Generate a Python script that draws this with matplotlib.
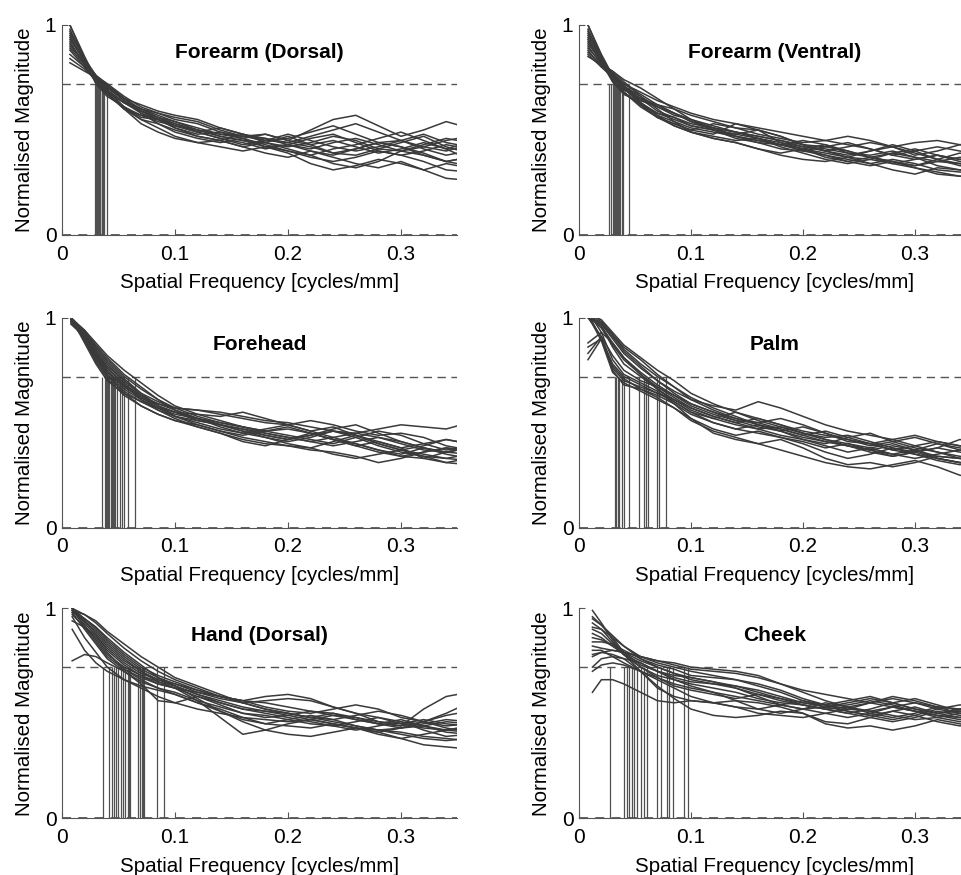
import matplotlib
matplotlib.use("Agg")
import matplotlib.pyplot as plt
import numpy as np

plt.rcParams['font.family'] = ['Liberation Sans', 'DejaVu Sans']

# ---------------- data ----------------
freq_tail = [0.02, 0.03, 0.04, 0.055, 0.07, 0.085, 0.1, 0.12, 0.14, 0.16, 0.18,
             0.2, 0.22, 0.24, 0.26, 0.28, 0.3, 0.32, 0.34, 0.36]
start_freq = [0.007, 0.008, 0.008, 0.008, 0.009, 0.012]
titles = ["Forearm (Dorsal)", "Forearm (Ventral)", "Forehead", "Palm",
          "Hand (Dorsal)", "Cheek"]
threshold = 0.72
x_ticks = [0, 0.1, 0.2, 0.3]
x_tick_labels = ["0", "0.1", "0.2", "0.3"]
y_ticks = [0, 1]
y_tick_labels = ["0", "1"]
x_label = "Spatial Frequency [cycles/mm]"
y_label = "Normalised Magnitude"

forearm_dorsal_curves = [
    [1.00, 0.84, 0.73, 0.67, 0.60, 0.57, 0.54, 0.52, 0.50, 0.47, 0.45, 0.44, 0.42, 0.44, 0.47, 0.45, 0.41, 0.40, 0.43, 0.46, 0.44],
    [0.98, 0.83, 0.72, 0.66, 0.61, 0.56, 0.55, 0.51, 0.48, 0.49, 0.46, 0.42, 0.43, 0.40, 0.38, 0.41, 0.44, 0.42, 0.38, 0.35, 0.37],
    [0.95, 0.82, 0.73, 0.68, 0.63, 0.60, 0.58, 0.56, 0.54, 0.50, 0.47, 0.48, 0.45, 0.50, 0.55, 0.57, 0.52, 0.47, 0.50, 0.54, 0.51],
    [0.92, 0.81, 0.74, 0.68, 0.60, 0.55, 0.53, 0.49, 0.46, 0.44, 0.46, 0.43, 0.40, 0.37, 0.35, 0.37, 0.40, 0.38, 0.35, 0.31, 0.30],
    [0.90, 0.82, 0.74, 0.69, 0.63, 0.59, 0.56, 0.54, 0.51, 0.48, 0.47, 0.45, 0.46, 0.49, 0.52, 0.48, 0.44, 0.45, 0.41, 0.38, 0.40],
    [0.88, 0.80, 0.73, 0.67, 0.61, 0.57, 0.55, 0.53, 0.49, 0.46, 0.43, 0.45, 0.48, 0.45, 0.42, 0.40, 0.42, 0.45, 0.48, 0.44, 0.42],
    [0.86, 0.80, 0.74, 0.68, 0.60, 0.53, 0.49, 0.46, 0.44, 0.45, 0.42, 0.39, 0.37, 0.40, 0.37, 0.34, 0.32, 0.35, 0.31, 0.27, 0.26],
    [0.84, 0.79, 0.74, 0.68, 0.63, 0.58, 0.55, 0.51, 0.47, 0.45, 0.48, 0.46, 0.43, 0.41, 0.44, 0.46, 0.43, 0.40, 0.42, 0.45, 0.47],
    [0.82, 0.78, 0.75, 0.70, 0.65, 0.62, 0.59, 0.57, 0.55, 0.51, 0.48, 0.44, 0.41, 0.38, 0.34, 0.32, 0.35, 0.40, 0.38, 0.35, 0.37],
    [1.00, 0.85, 0.74, 0.69, 0.63, 0.59, 0.55, 0.52, 0.49, 0.51, 0.48, 0.45, 0.44, 0.47, 0.50, 0.53, 0.49, 0.45, 0.42, 0.40, 0.43],
    [0.97, 0.84, 0.75, 0.70, 0.64, 0.58, 0.53, 0.50, 0.47, 0.45, 0.42, 0.44, 0.47, 0.43, 0.39, 0.38, 0.41, 0.44, 0.47, 0.42, 0.39],
    [0.93, 0.83, 0.75, 0.71, 0.65, 0.60, 0.56, 0.53, 0.50, 0.47, 0.45, 0.42, 0.40, 0.38, 0.41, 0.43, 0.46, 0.49, 0.45, 0.41, 0.36],
    [0.91, 0.82, 0.76, 0.69, 0.61, 0.55, 0.51, 0.47, 0.44, 0.42, 0.40, 0.42, 0.39, 0.34, 0.31, 0.33, 0.36, 0.34, 0.31, 0.34, 0.32],
    [0.96, 0.84, 0.76, 0.71, 0.64, 0.60, 0.57, 0.54, 0.50, 0.48, 0.46, 0.48, 0.45, 0.43, 0.45, 0.42, 0.39, 0.41, 0.44, 0.41, 0.44],
    [0.89, 0.81, 0.75, 0.72, 0.66, 0.61, 0.58, 0.55, 0.53, 0.49, 0.47, 0.46, 0.44, 0.42, 0.39, 0.41, 0.44, 0.42, 0.39, 0.35, 0.33],
    [0.94, 0.83, 0.76, 0.72, 0.65, 0.59, 0.56, 0.52, 0.49, 0.46, 0.44, 0.41, 0.43, 0.46, 0.48, 0.44, 0.40, 0.38, 0.40, 0.43, 0.41],
]
forearm_dorsal_cutoffs = [0.029, 0.030, 0.030, 0.031, 0.031, 0.032, 0.032, 0.033, 0.033,
                          0.033, 0.034, 0.034, 0.035, 0.035, 0.036, 0.037, 0.040]

forearm_ventral_curves = [
    [1.00, 0.85, 0.74, 0.68, 0.62, 0.58, 0.55, 0.52, 0.50, 0.48, 0.46, 0.44, 0.42, 0.41, 0.39, 0.38, 0.40, 0.37, 0.35, 0.34, 0.33],
    [0.98, 0.84, 0.73, 0.67, 0.63, 0.57, 0.54, 0.51, 0.49, 0.47, 0.45, 0.43, 0.41, 0.39, 0.37, 0.36, 0.34, 0.36, 0.38, 0.36, 0.35],
    [0.96, 0.83, 0.74, 0.69, 0.65, 0.62, 0.60, 0.57, 0.54, 0.51, 0.50, 0.47, 0.43, 0.40, 0.37, 0.40, 0.43, 0.40, 0.36, 0.33, 0.32],
    [0.94, 0.82, 0.73, 0.68, 0.61, 0.56, 0.53, 0.50, 0.53, 0.51, 0.48, 0.46, 0.44, 0.45, 0.47, 0.45, 0.42, 0.38, 0.40, 0.43, 0.41],
    [0.92, 0.82, 0.74, 0.68, 0.62, 0.56, 0.52, 0.49, 0.46, 0.44, 0.41, 0.39, 0.41, 0.38, 0.35, 0.33, 0.35, 0.32, 0.29, 0.28, 0.29],
    [0.90, 0.81, 0.75, 0.70, 0.63, 0.58, 0.56, 0.52, 0.50, 0.48, 0.50, 0.47, 0.43, 0.42, 0.40, 0.37, 0.35, 0.33, 0.35, 0.37, 0.36],
    [0.88, 0.80, 0.75, 0.70, 0.64, 0.61, 0.57, 0.55, 0.52, 0.49, 0.47, 0.45, 0.42, 0.40, 0.42, 0.44, 0.42, 0.39, 0.36, 0.34, 0.32],
    [0.86, 0.80, 0.76, 0.71, 0.66, 0.60, 0.54, 0.49, 0.46, 0.44, 0.41, 0.38, 0.36, 0.35, 0.37, 0.34, 0.31, 0.29, 0.32, 0.31, 0.28],
    [1.00, 0.86, 0.76, 0.71, 0.64, 0.62, 0.58, 0.54, 0.50, 0.47, 0.45, 0.43, 0.41, 0.43, 0.40, 0.37, 0.39, 0.41, 0.38, 0.36, 0.37],
    [0.97, 0.85, 0.75, 0.70, 0.62, 0.56, 0.53, 0.50, 0.48, 0.53, 0.50, 0.44, 0.41, 0.37, 0.35, 0.37, 0.34, 0.32, 0.30, 0.28, 0.27],
    [0.95, 0.84, 0.76, 0.71, 0.65, 0.59, 0.56, 0.53, 0.51, 0.49, 0.47, 0.45, 0.43, 0.40, 0.38, 0.40, 0.42, 0.44, 0.45, 0.43, 0.44],
    [0.93, 0.83, 0.77, 0.72, 0.67, 0.62, 0.58, 0.54, 0.51, 0.47, 0.44, 0.41, 0.40, 0.42, 0.44, 0.41, 0.38, 0.36, 0.38, 0.35, 0.33],
    [0.91, 0.83, 0.77, 0.71, 0.63, 0.57, 0.52, 0.49, 0.47, 0.45, 0.46, 0.42, 0.39, 0.36, 0.34, 0.36, 0.39, 0.37, 0.33, 0.31, 0.32],
    [0.89, 0.82, 0.77, 0.72, 0.68, 0.64, 0.61, 0.58, 0.55, 0.53, 0.51, 0.49, 0.47, 0.45, 0.43, 0.41, 0.38, 0.40, 0.42, 0.40, 0.38],
    [0.87, 0.81, 0.78, 0.73, 0.66, 0.61, 0.58, 0.55, 0.50, 0.46, 0.44, 0.43, 0.45, 0.43, 0.39, 0.37, 0.35, 0.33, 0.36, 0.39, 0.37],
    [0.85, 0.81, 0.78, 0.74, 0.70, 0.65, 0.60, 0.55, 0.51, 0.49, 0.46, 0.43, 0.40, 0.38, 0.36, 0.34, 0.36, 0.34, 0.31, 0.30, 0.29],
]
forearm_ventral_cutoffs = [0.027, 0.029, 0.030, 0.031, 0.032, 0.033, 0.034, 0.035,
                           0.036, 0.037, 0.038, 0.039, 0.045]

forehead_curves = [
    [1.00, 0.88, 0.78, 0.70, 0.64, 0.60, 0.57, 0.55, 0.54, 0.53, 0.55, 0.52, 0.49, 0.46, 0.48, 0.44, 0.40, 0.37, 0.39, 0.42, 0.40],
    [1.00, 0.89, 0.79, 0.71, 0.63, 0.58, 0.54, 0.51, 0.49, 0.46, 0.44, 0.46, 0.48, 0.45, 0.42, 0.40, 0.37, 0.34, 0.33, 0.36, 0.38],
    [0.99, 0.89, 0.80, 0.72, 0.65, 0.60, 0.56, 0.53, 0.51, 0.49, 0.47, 0.44, 0.42, 0.44, 0.47, 0.49, 0.45, 0.41, 0.38, 0.36, 0.35],
    [0.99, 0.90, 0.81, 0.73, 0.66, 0.61, 0.57, 0.54, 0.52, 0.50, 0.48, 0.46, 0.44, 0.42, 0.40, 0.43, 0.46, 0.44, 0.40, 0.37, 0.39],
    [0.98, 0.90, 0.81, 0.73, 0.64, 0.58, 0.54, 0.51, 0.48, 0.45, 0.42, 0.40, 0.39, 0.37, 0.36, 0.34, 0.31, 0.33, 0.36, 0.38, 0.37],
    [0.98, 0.90, 0.82, 0.74, 0.67, 0.62, 0.58, 0.55, 0.52, 0.48, 0.45, 0.43, 0.41, 0.43, 0.46, 0.44, 0.40, 0.37, 0.35, 0.33, 0.32],
    [0.97, 0.91, 0.82, 0.74, 0.68, 0.61, 0.56, 0.52, 0.48, 0.45, 0.41, 0.39, 0.42, 0.45, 0.42, 0.39, 0.41, 0.38, 0.33, 0.31, 0.33],
    [0.97, 0.91, 0.83, 0.75, 0.67, 0.62, 0.59, 0.57, 0.56, 0.55, 0.53, 0.51, 0.50, 0.48, 0.46, 0.45, 0.43, 0.40, 0.37, 0.36, 0.38],
    [1.00, 0.91, 0.83, 0.76, 0.68, 0.63, 0.58, 0.55, 0.51, 0.49, 0.47, 0.45, 0.43, 0.41, 0.43, 0.45, 0.47, 0.49, 0.48, 0.47, 0.50],
    [0.99, 0.92, 0.84, 0.76, 0.69, 0.62, 0.57, 0.53, 0.50, 0.47, 0.45, 0.47, 0.49, 0.46, 0.43, 0.40, 0.37, 0.35, 0.38, 0.35, 0.33],
    [0.98, 0.92, 0.84, 0.77, 0.70, 0.63, 0.59, 0.56, 0.52, 0.49, 0.46, 0.43, 0.40, 0.38, 0.41, 0.44, 0.41, 0.38, 0.40, 0.42, 0.40],
    [1.00, 0.93, 0.85, 0.78, 0.70, 0.64, 0.60, 0.57, 0.56, 0.54, 0.52, 0.50, 0.49, 0.51, 0.49, 0.46, 0.44, 0.45, 0.43, 0.39, 0.37],
    [0.99, 0.93, 0.86, 0.79, 0.71, 0.64, 0.58, 0.53, 0.49, 0.46, 0.43, 0.41, 0.39, 0.38, 0.35, 0.33, 0.35, 0.37, 0.34, 0.31, 0.30],
    [1.00, 0.93, 0.86, 0.80, 0.72, 0.66, 0.61, 0.57, 0.53, 0.50, 0.48, 0.46, 0.47, 0.45, 0.42, 0.39, 0.36, 0.34, 0.36, 0.38, 0.36],
    [0.99, 0.94, 0.87, 0.81, 0.73, 0.67, 0.61, 0.56, 0.52, 0.49, 0.46, 0.44, 0.42, 0.44, 0.46, 0.43, 0.39, 0.36, 0.34, 0.33, 0.35],
    [1.00, 0.94, 0.88, 0.82, 0.75, 0.69, 0.63, 0.58, 0.54, 0.51, 0.48, 0.45, 0.43, 0.41, 0.39, 0.41, 0.43, 0.41, 0.38, 0.36, 0.38],
]
forehead_cutoffs = [0.035, 0.038, 0.039, 0.040, 0.041, 0.042, 0.043, 0.044, 0.045,
                    0.046, 0.047, 0.049, 0.051, 0.053, 0.055, 0.058, 0.065]

palm_curves = [
    [1.02, 0.90, 0.75, 0.68, 0.66, 0.63, 0.59, 0.54, 0.50, 0.47, 0.45, 0.43, 0.41, 0.38, 0.40, 0.37, 0.34, 0.36, 0.33, 0.31, 0.30],
    [1.01, 0.89, 0.74, 0.69, 0.65, 0.61, 0.57, 0.52, 0.47, 0.44, 0.46, 0.43, 0.40, 0.36, 0.33, 0.35, 0.38, 0.35, 0.32, 0.30, 0.31],
    [0.80, 0.90, 0.76, 0.70, 0.67, 0.64, 0.60, 0.55, 0.52, 0.49, 0.47, 0.48, 0.45, 0.42, 0.39, 0.37, 0.39, 0.37, 0.34, 0.33, 0.32],
    [1.00, 0.91, 0.77, 0.71, 0.66, 0.62, 0.57, 0.51, 0.46, 0.43, 0.40, 0.37, 0.34, 0.31, 0.29, 0.28, 0.30, 0.32, 0.29, 0.25, 0.23],
    [0.86, 0.90, 0.78, 0.72, 0.68, 0.64, 0.61, 0.57, 0.53, 0.50, 0.52, 0.49, 0.45, 0.43, 0.44, 0.41, 0.38, 0.36, 0.38, 0.36, 0.34],
    [1.03, 0.93, 0.80, 0.73, 0.69, 0.65, 0.59, 0.52, 0.45, 0.42, 0.40, 0.42, 0.38, 0.33, 0.30, 0.31, 0.29, 0.31, 0.34, 0.33, 0.34],
    [0.83, 0.91, 0.82, 0.75, 0.70, 0.67, 0.63, 0.59, 0.55, 0.51, 0.48, 0.46, 0.48, 0.45, 0.41, 0.40, 0.42, 0.39, 0.36, 0.33, 0.31],
    [1.02, 0.96, 0.86, 0.78, 0.72, 0.66, 0.61, 0.56, 0.52, 0.55, 0.51, 0.48, 0.45, 0.42, 0.40, 0.38, 0.35, 0.37, 0.40, 0.38, 0.36],
    [1.01, 0.95, 0.87, 0.80, 0.73, 0.67, 0.62, 0.57, 0.53, 0.50, 0.47, 0.44, 0.42, 0.40, 0.43, 0.45, 0.41, 0.38, 0.36, 0.34, 0.33],
    [1.00, 0.96, 0.88, 0.81, 0.73, 0.66, 0.60, 0.55, 0.50, 0.47, 0.49, 0.46, 0.42, 0.39, 0.36, 0.38, 0.40, 0.37, 0.33, 0.31, 0.30],
    [0.88, 0.93, 0.88, 0.81, 0.74, 0.68, 0.63, 0.58, 0.54, 0.51, 0.50, 0.47, 0.44, 0.46, 0.43, 0.40, 0.37, 0.39, 0.41, 0.39, 0.37],
    [1.02, 0.97, 0.90, 0.83, 0.76, 0.70, 0.64, 0.59, 0.55, 0.52, 0.49, 0.47, 0.44, 0.41, 0.39, 0.36, 0.34, 0.36, 0.38, 0.42, 0.40],
    [1.01, 0.97, 0.91, 0.84, 0.77, 0.70, 0.65, 0.61, 0.58, 0.56, 0.60, 0.57, 0.53, 0.49, 0.46, 0.44, 0.42, 0.44, 0.41, 0.39, 0.38],
    [1.00, 0.98, 0.92, 0.85, 0.78, 0.72, 0.67, 0.61, 0.56, 0.52, 0.50, 0.52, 0.49, 0.45, 0.42, 0.39, 0.41, 0.43, 0.40, 0.37, 0.36],
    [1.03, 0.98, 0.92, 0.86, 0.80, 0.73, 0.67, 0.62, 0.57, 0.53, 0.49, 0.46, 0.43, 0.41, 0.39, 0.37, 0.35, 0.33, 0.35, 0.37, 0.35],
    [1.02, 0.99, 0.93, 0.87, 0.81, 0.75, 0.70, 0.64, 0.59, 0.55, 0.52, 0.49, 0.46, 0.44, 0.42, 0.40, 0.37, 0.35, 0.33, 0.31, 0.32],
]
palm_cutoffs = [0.032, 0.033, 0.035, 0.036, 0.038, 0.040, 0.045, 0.054, 0.058,
                0.060, 0.062, 0.070, 0.071, 0.078]

hand_dorsal_curves = [
    [0.90, 0.80, 0.74, 0.70, 0.66, 0.62, 0.58, 0.55, 0.52, 0.50, 0.48, 0.47, 0.46, 0.47, 0.49, 0.48, 0.45, 0.43, 0.44, 0.46, 0.45],
    [0.96, 0.86, 0.79, 0.72, 0.66, 0.63, 0.61, 0.59, 0.55, 0.52, 0.48, 0.45, 0.44, 0.43, 0.45, 0.43, 0.40, 0.38, 0.40, 0.42, 0.41],
    [0.98, 0.90, 0.83, 0.76, 0.70, 0.65, 0.62, 0.60, 0.56, 0.53, 0.50, 0.49, 0.47, 0.45, 0.44, 0.46, 0.48, 0.46, 0.42, 0.39, 0.40],
    [0.75, 0.78, 0.77, 0.74, 0.70, 0.64, 0.56, 0.55, 0.58, 0.54, 0.50, 0.48, 0.49, 0.51, 0.50, 0.47, 0.45, 0.47, 0.44, 0.42, 0.43],
    [1.00, 0.91, 0.84, 0.77, 0.71, 0.67, 0.64, 0.62, 0.58, 0.55, 0.52, 0.50, 0.48, 0.46, 0.44, 0.42, 0.44, 0.46, 0.44, 0.41, 0.40],
    [0.99, 0.92, 0.85, 0.78, 0.72, 0.68, 0.65, 0.63, 0.59, 0.56, 0.53, 0.51, 0.49, 0.47, 0.45, 0.43, 0.41, 0.43, 0.46, 0.49, 0.51],
    [0.97, 0.91, 0.86, 0.79, 0.71, 0.66, 0.62, 0.59, 0.55, 0.51, 0.47, 0.45, 0.47, 0.49, 0.47, 0.44, 0.42, 0.40, 0.38, 0.37, 0.38],
    [1.00, 0.93, 0.87, 0.80, 0.73, 0.68, 0.64, 0.62, 0.60, 0.58, 0.56, 0.55, 0.53, 0.51, 0.49, 0.47, 0.45, 0.44, 0.46, 0.43, 0.41],
    [0.94, 0.91, 0.87, 0.81, 0.74, 0.69, 0.66, 0.63, 0.57, 0.51, 0.46, 0.42, 0.40, 0.39, 0.41, 0.43, 0.41, 0.38, 0.35, 0.34, 0.33],
    [1.00, 0.94, 0.88, 0.82, 0.75, 0.70, 0.66, 0.64, 0.61, 0.58, 0.55, 0.52, 0.50, 0.48, 0.47, 0.49, 0.51, 0.49, 0.46, 0.44, 0.45],
    [0.99, 0.94, 0.89, 0.83, 0.76, 0.70, 0.65, 0.62, 0.56, 0.48, 0.40, 0.42, 0.45, 0.47, 0.45, 0.43, 0.42, 0.43, 0.45, 0.47, 0.46],
    [0.99, 0.95, 0.90, 0.84, 0.77, 0.71, 0.67, 0.64, 0.60, 0.57, 0.55, 0.56, 0.57, 0.56, 0.53, 0.50, 0.48, 0.45, 0.43, 0.42, 0.44],
    [1.00, 0.95, 0.91, 0.85, 0.78, 0.72, 0.68, 0.65, 0.61, 0.58, 0.56, 0.53, 0.51, 0.50, 0.52, 0.54, 0.52, 0.48, 0.46, 0.50, 0.55],
    [0.98, 0.95, 0.91, 0.86, 0.79, 0.73, 0.67, 0.63, 0.59, 0.55, 0.52, 0.51, 0.50, 0.48, 0.46, 0.44, 0.42, 0.41, 0.39, 0.38, 0.37],
    [1.00, 0.97, 0.93, 0.88, 0.81, 0.75, 0.70, 0.66, 0.62, 0.58, 0.56, 0.58, 0.59, 0.57, 0.53, 0.50, 0.46, 0.44, 0.52, 0.58, 0.60],
    [0.99, 0.97, 0.94, 0.89, 0.83, 0.77, 0.72, 0.67, 0.63, 0.59, 0.55, 0.52, 0.50, 0.48, 0.50, 0.48, 0.46, 0.45, 0.47, 0.45, 0.44],
]
hand_dorsal_cutoffs = [0.036, 0.042, 0.044, 0.046, 0.048, 0.050, 0.052, 0.054, 0.056,
                       0.058, 0.059, 0.060, 0.067, 0.069, 0.071, 0.072, 0.073, 0.084, 0.090]

cheek_curves = [
    [0.60, 0.66, 0.66, 0.64, 0.60, 0.56, 0.55, 0.56, 0.55, 0.53, 0.50, 0.49, 0.48, 0.50, 0.52, 0.51, 0.49, 0.47, 0.48, 0.50, 0.49],
    [0.99, 0.93, 0.85, 0.78, 0.72, 0.68, 0.66, 0.64, 0.62, 0.60, 0.57, 0.55, 0.54, 0.52, 0.53, 0.55, 0.57, 0.55, 0.52, 0.50, 0.51],
    [0.96, 0.92, 0.86, 0.79, 0.73, 0.70, 0.68, 0.67, 0.65, 0.62, 0.58, 0.54, 0.52, 0.50, 0.48, 0.50, 0.53, 0.51, 0.48, 0.46, 0.47],
    [0.80, 0.80, 0.77, 0.74, 0.70, 0.66, 0.62, 0.58, 0.55, 0.53, 0.52, 0.54, 0.56, 0.54, 0.51, 0.49, 0.47, 0.49, 0.52, 0.54, 0.53],
    [0.93, 0.90, 0.84, 0.78, 0.70, 0.63, 0.57, 0.52, 0.49, 0.48, 0.49, 0.51, 0.50, 0.46, 0.45, 0.48, 0.51, 0.49, 0.46, 0.44, 0.45],
    [0.70, 0.73, 0.74, 0.73, 0.70, 0.67, 0.64, 0.62, 0.60, 0.58, 0.56, 0.54, 0.52, 0.53, 0.55, 0.57, 0.55, 0.52, 0.50, 0.52, 0.55],
    [0.90, 0.88, 0.83, 0.78, 0.72, 0.67, 0.63, 0.61, 0.59, 0.57, 0.59, 0.57, 0.54, 0.52, 0.50, 0.48, 0.46, 0.48, 0.51, 0.49, 0.47],
    [0.77, 0.79, 0.78, 0.76, 0.70, 0.62, 0.58, 0.56, 0.55, 0.56, 0.55, 0.53, 0.50, 0.45, 0.43, 0.44, 0.42, 0.44, 0.47, 0.45, 0.43],
    [0.88, 0.86, 0.82, 0.78, 0.74, 0.70, 0.67, 0.65, 0.64, 0.63, 0.60, 0.57, 0.55, 0.54, 0.56, 0.58, 0.55, 0.52, 0.50, 0.51, 0.53],
    [0.72, 0.76, 0.77, 0.76, 0.74, 0.70, 0.66, 0.63, 0.60, 0.56, 0.52, 0.50, 0.52, 0.55, 0.53, 0.51, 0.53, 0.55, 0.53, 0.50, 0.48],
    [0.86, 0.85, 0.82, 0.79, 0.75, 0.72, 0.69, 0.66, 0.64, 0.62, 0.59, 0.56, 0.54, 0.52, 0.50, 0.52, 0.55, 0.57, 0.54, 0.51, 0.50],
    [0.95, 0.92, 0.87, 0.82, 0.76, 0.72, 0.69, 0.67, 0.65, 0.63, 0.61, 0.58, 0.55, 0.53, 0.51, 0.49, 0.51, 0.53, 0.50, 0.48, 0.49],
    [0.84, 0.84, 0.83, 0.80, 0.76, 0.73, 0.71, 0.68, 0.67, 0.66, 0.64, 0.61, 0.57, 0.54, 0.52, 0.55, 0.58, 0.56, 0.53, 0.52, 0.54],
    [0.91, 0.90, 0.86, 0.82, 0.77, 0.74, 0.72, 0.70, 0.68, 0.66, 0.63, 0.60, 0.56, 0.53, 0.54, 0.56, 0.54, 0.51, 0.49, 0.47, 0.48],
    [0.78, 0.79, 0.80, 0.79, 0.77, 0.75, 0.73, 0.71, 0.70, 0.69, 0.67, 0.64, 0.60, 0.56, 0.53, 0.50, 0.48, 0.50, 0.53, 0.52, 0.50],
    [0.82, 0.81, 0.80, 0.79, 0.77, 0.75, 0.74, 0.72, 0.71, 0.70, 0.68, 0.64, 0.61, 0.59, 0.57, 0.55, 0.53, 0.51, 0.49, 0.48, 0.49],
]
cheek_cutoffs = [0.028, 0.040, 0.043, 0.045, 0.047, 0.049, 0.052, 0.055, 0.058,
                 0.061, 0.070, 0.073, 0.079, 0.080, 0.084, 0.094, 0.097]

panel_curves = [forearm_dorsal_curves, forearm_ventral_curves, forehead_curves,
                palm_curves, hand_dorsal_curves, cheek_curves]
panel_cutoffs = [forearm_dorsal_cutoffs, forearm_ventral_cutoffs, forehead_cutoffs,
                 palm_cutoffs, hand_dorsal_cutoffs, cheek_cutoffs]

# ---------------- layout (pixels) ----------------
W, H = 962, 875
col_left = [62, 579]
col_width = [395.5, 392]
row_top = [25, 317.7, 608.3]
ax_h = 210

curve_color = "#3a3a3a"
vline_color = "#505050"
axis_color = "#555555"

fig = plt.figure(figsize=(W / 100, H / 100), dpi=100)

for i in range(6):
    r, c = divmod(i, 2)
    left = col_left[c] / W
    bottom = 1 - (row_top[r] + ax_h) / H
    ax = fig.add_axes([left, bottom, col_width[c] / W, ax_h / H])

    x = np.array([start_freq[i]] + freq_tail)
    for curve in panel_curves[i]:
        ax.plot(x, curve, color=curve_color, lw=1.1, zorder=3)
    ax.vlines(panel_cutoffs[i], 0, threshold, colors=vline_color, lw=0.9, zorder=2)
    ax.axhline(threshold, color="#555555", lw=1.0, ls=(0, (6, 4)), zorder=1)
    ax.axhline(0, color=axis_color, lw=1.3, ls=(0, (5, 4)), zorder=1, clip_on=False)

    ax.set_xlim(0, 0.35)
    ax.set_ylim(0, 1)
    ax.set_xticks(x_ticks)
    ax.set_xticklabels(x_tick_labels)
    ax.set_yticks(y_ticks)
    ax.set_yticklabels(y_tick_labels)
    ax.tick_params(direction="in", length=4, width=0.8, color=axis_color,
                   labelsize=15)
    ax.tick_params(axis="x", pad=7)
    ax.tick_params(axis="y", pad=4)
    for s in ["top", "right"]:
        ax.spines[s].set_visible(False)
    for s in ["left", "bottom"]:
        ax.spines[s].set_color(axis_color)
        ax.spines[s].set_linewidth(0.8)
    ax.set_xlabel(x_label, fontsize=14.8, labelpad=7)
    ax.set_ylabel(y_label, fontsize=14.8, labelpad=8)
    ax.text(0.5, 0.87, titles[i], transform=ax.transAxes, ha="center",
            va="center", fontsize=15, fontweight="bold")

fig.savefig("out.png", dpi=100)
